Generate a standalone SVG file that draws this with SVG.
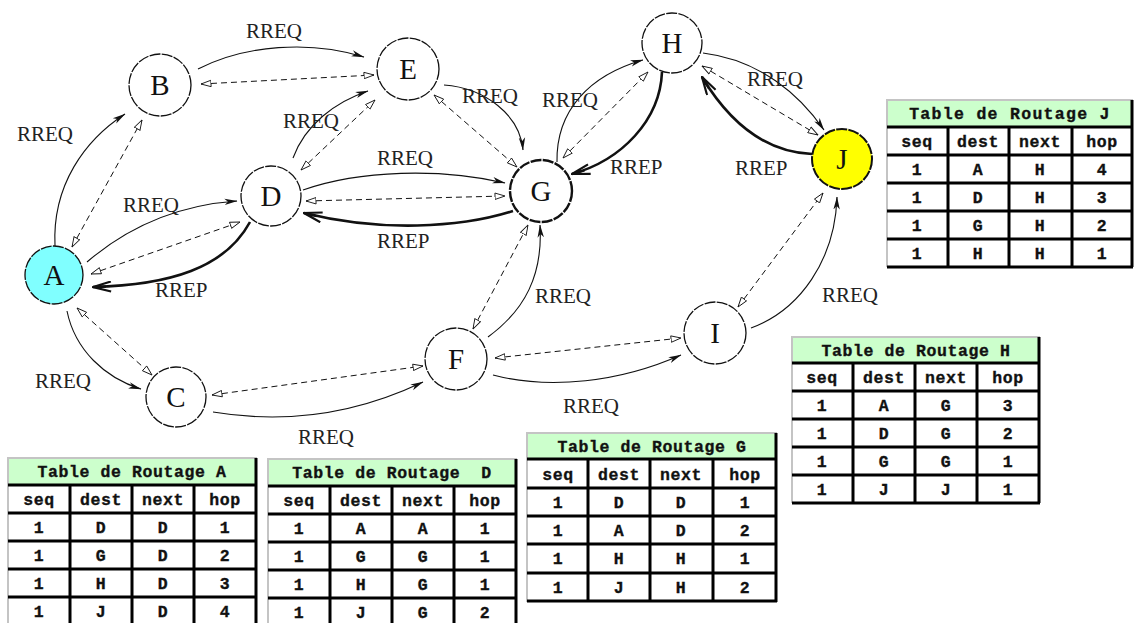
<svg xmlns="http://www.w3.org/2000/svg" width="1134" height="623" viewBox="0 0 1134 623">
  <style>
    .node circle { fill: #fff; stroke: #111; stroke-width: 1.3; stroke-dasharray: 11 1.3; }
    .node text { font-family: "Liberation Serif", "Times New Roman", serif; font-size: 29px; text-anchor: middle; fill: #111; }
    .req { fill: none; stroke: #111; stroke-width: 1.1; marker-end: url(#mReq); }
    .dash { fill: none; stroke: #111; stroke-width: 1; stroke-dasharray: 6 4; marker-start: url(#mDash); marker-end: url(#mDash); }
    .rep { fill: none; stroke: #111; stroke-width: 2.6; marker-end: url(#mRep); }
    .lbl { font-family: "Liberation Serif", "Times New Roman", serif; font-size: 21px; fill: #222; }
    .tbl text { font-family: "Liberation Mono", "Courier New", monospace; font-weight: bold; font-size: 16.5px; letter-spacing: 0.6px; text-anchor: middle; fill: #111; stroke: #111; stroke-width: 0.35; }
    .tbl .hd { fill: #ccffcc; }
    .tbl .bd { fill: #fff; }
    .tbl .grid { stroke: #000; stroke-width: 3; fill: none; }
    .tbl .bev { stroke: #c4c4c4; stroke-width: 2; fill: none; }
  </style>
  <defs>
    <marker id="mReq" markerUnits="userSpaceOnUse" viewBox="0 0 13 8" refX="12.5" refY="4" markerWidth="13" markerHeight="8" orient="auto">
      <path d="M0,0.8 L13,4 L0,7.2 L3.5,4 Z" fill="#111"/>
    </marker>
    <marker id="mDash" markerUnits="userSpaceOnUse" viewBox="0 0 11 8" refX="10.5" refY="4" markerWidth="11" markerHeight="8" orient="auto-start-reverse">
      <path d="M0.5,0.8 L10.5,4 L0.5,7.2 Z" fill="#fff" stroke="#111" stroke-width="0.9"/>
    </marker>
    <marker id="mRep" markerUnits="userSpaceOnUse" viewBox="0 0 20 12" refX="19" refY="6" markerWidth="20" markerHeight="12" orient="auto">
      <path d="M1,1 L19,6 L1,11 M6,6 L19,6" fill="none" stroke="#111" stroke-width="2.2"/>
    </marker>
  </defs>

  <!-- links between stations -->
  <g id="connectors">
    <path class="req" d="M55,246 C52,185 85,140 125,114"/>
    <path class="dash" d="M72,247 L142,120"/>
    <path class="req" d="M198,69 C245,45 310,40 364,57"/>
    <path class="dash" d="M201,84 L374,75"/>
    <path class="req" d="M87,262 C130,225 180,205 237,201"/>
    <path class="dash" d="M91,274 L240,222"/>
    <path class="rep" d="M250,222 C225,268 170,285 93,287"/>
    <path class="req" d="M293,158 C305,125 335,102 368,91"/>
    <path class="dash" d="M301,170 L375,100"/>
    <path class="req" d="M303,190 C360,170 440,168 505,183"/>
    <path class="dash" d="M306,201 L505,196"/>
    <path class="rep" d="M513,211 C460,228 380,232 304,213"/>
    <path class="req" d="M444,85 C485,88 520,115 523,150"/>
    <path class="dash" d="M434,95 L517,167"/>
    <path class="req" d="M557,162 C556,110 590,75 643,60"/>
    <path class="dash" d="M563,158 L648,72"/>
    <path class="rep" d="M662,72 C660,120 622,160 572,174"/>
    <path class="req" d="M703,53 C760,60 800,95 824,130"/>
    <path class="dash" d="M702,66 L818,135"/>
    <path class="rep" d="M812,154 C760,152 725,115 702,77"/>
    <path class="req" d="M67,311 C75,350 105,378 141,389"/>
    <path class="dash" d="M77,308 L152,375"/>
    <path class="req" d="M213,412 C290,425 360,412 423,382"/>
    <path class="dash" d="M212,395 L423,366"/>
    <path class="req" d="M488,337 C525,310 543,275 540,225"/>
    <path class="dash" d="M473,329 L528,225"/>
    <path class="req" d="M493,375 C550,390 620,382 681,355"/>
    <path class="dash" d="M495,358 L681,338"/>
    <path class="req" d="M751,328 C800,310 835,260 837,197"/>
    <path class="dash" d="M738,307 L823,193"/>
  </g>

  <!-- message labels -->
  <g id="labels" class="lbl">
    <text class="lbl" x="246" y="38">RREQ</text>
    <text class="lbl" x="17" y="141">RREQ</text>
    <text class="lbl" x="283" y="128">RREQ</text>
    <text class="lbl" x="123" y="212">RREQ</text>
    <text class="lbl" x="155" y="297">RREP</text>
    <text class="lbl" x="462" y="103">RREQ</text>
    <text class="lbl" x="542" y="107">RREQ</text>
    <text class="lbl" x="377" y="165">RREQ</text>
    <text class="lbl" x="377" y="248">RREP</text>
    <text class="lbl" x="610" y="174">RREP</text>
    <text class="lbl" x="747" y="86">RREQ</text>
    <text class="lbl" x="735" y="175">RREP</text>
    <text class="lbl" x="822" y="302">RREQ</text>
    <text class="lbl" x="535" y="303">RREQ</text>
    <text class="lbl" x="563" y="413">RREQ</text>
    <text class="lbl" x="35" y="388">RREQ</text>
    <text class="lbl" x="298" y="444">RREQ</text>
  </g>

  <!-- stations -->
  <g id="node-A" class="node"><circle cx="54" cy="275" r="29" style="fill:#80ffff"/><text x="54" y="285">A</text></g>
  <g id="node-B" class="node"><circle cx="160" cy="85" r="31"/><text x="160" y="95">B</text></g>
  <g id="node-C" class="node"><circle cx="176" cy="397" r="30"/><text x="176" y="407">C</text></g>
  <g id="node-D" class="node"><circle cx="271" cy="196" r="30"/><text x="271" y="206">D</text></g>
  <g id="node-E" class="node"><circle cx="408" cy="69" r="31"/><text x="408" y="79">E</text></g>
  <g id="node-F" class="node"><circle cx="456" cy="359" r="31"/><text x="456" y="369">F</text></g>
  <g id="node-G" class="node"><circle cx="541" cy="191" r="31" style="stroke-width:2.4"/><text x="541" y="201">G</text></g>
  <g id="node-H" class="node"><circle cx="672" cy="43" r="30"/><text x="672" y="53">H</text></g>
  <g id="node-I" class="node"><circle cx="715" cy="333" r="31"/><text x="715" y="343">I</text></g>
  <g id="node-J" class="node"><circle cx="842" cy="159" r="30" style="fill:#ffff00;stroke-width:2"/><text x="842" y="169">J</text></g>

  <!-- routing table of J -->
  <g id="table-J" class="tbl">
    <rect class="hd" x="887" y="100" width="246" height="27"/>
    <rect class="bd" x="887" y="127" width="246" height="140"/>
    <path class="bev" d="M887,267 V100 H1133"/>
    <path class="grid" d="M887,127 H1133 M887,155 H1133 M887,183 H1133 M887,211 H1133 M887,239 H1133 M887,267 H1133 M948,127 V267 M1009,127 V267 M1072,127 V267 M1132,100 V267"/>
    <text x="1010" y="119" style="letter-spacing:1.3px">Table de Routage J</text>
    <text x="917" y="147">seq</text><text x="978" y="147">dest</text><text x="1040" y="147">next</text><text x="1102" y="147">hop</text>
    <text x="917" y="175">1</text><text x="978" y="175">A</text><text x="1040" y="175">H</text><text x="1102" y="175">4</text>
    <text x="917" y="203">1</text><text x="978" y="203">D</text><text x="1040" y="203">H</text><text x="1102" y="203">3</text>
    <text x="917" y="231">1</text><text x="978" y="231">G</text><text x="1040" y="231">H</text><text x="1102" y="231">2</text>
    <text x="917" y="259">1</text><text x="978" y="259">H</text><text x="1040" y="259">H</text><text x="1102" y="259">1</text>
  </g>

  <!-- routing table of H -->
  <g id="table-H" class="tbl">
    <rect class="hd" x="792" y="337" width="248" height="26"/>
    <rect class="bd" x="792" y="363" width="248" height="140"/>
    <path class="bev" d="M792,503 V337 H1040"/>
    <path class="grid" d="M792,363 H1040 M792,391 H1040 M792,419 H1040 M792,447 H1040 M792,475 H1040 M792,503 H1040 M853,363 V503 M915,363 V503 M977,363 V503 M1039,337 V503"/>
    <text x="916" y="356">Table de Routage H</text>
    <text x="822" y="383">seq</text><text x="884" y="383">dest</text><text x="946" y="383">next</text><text x="1008" y="383">hop</text>
    <text x="822" y="411">1</text><text x="884" y="411">A</text><text x="946" y="411">G</text><text x="1008" y="411">3</text>
    <text x="822" y="439">1</text><text x="884" y="439">D</text><text x="946" y="439">G</text><text x="1008" y="439">2</text>
    <text x="822" y="467">1</text><text x="884" y="467">G</text><text x="946" y="467">G</text><text x="1008" y="467">1</text>
    <text x="822" y="495">1</text><text x="884" y="495">J</text><text x="946" y="495">J</text><text x="1008" y="495">1</text>
  </g>

  <!-- routing table of G -->
  <g id="table-G" class="tbl">
    <rect class="hd" x="527" y="433" width="250" height="26"/>
    <rect class="bd" x="527" y="459" width="250" height="143"/>
    <path class="bev" d="M527,602 V433 H777"/>
    <path class="grid" d="M527,459 H777 M527,488 H777 M527,516 H777 M527,544 H777 M527,573 H777 M527,601 H777 M588,459 V602 M650,459 V602 M713,459 V602 M776,433 V602"/>
    <text x="652" y="452">Table de Routage G</text>
    <text x="558" y="480">seq</text><text x="619" y="480">dest</text><text x="681" y="480">next</text><text x="745" y="480">hop</text>
    <text x="558" y="508">1</text><text x="619" y="508">D</text><text x="681" y="508">D</text><text x="745" y="508">1</text>
    <text x="558" y="536">1</text><text x="619" y="536">A</text><text x="681" y="536">D</text><text x="745" y="536">2</text>
    <text x="558" y="564">1</text><text x="619" y="564">H</text><text x="681" y="564">H</text><text x="745" y="564">1</text>
    <text x="558" y="593">1</text><text x="619" y="593">J</text><text x="681" y="593">H</text><text x="745" y="593">2</text>
  </g>

  <!-- routing table of D -->
  <g id="table-D" class="tbl">
    <rect class="hd" x="268" y="459" width="249" height="27"/>
    <rect class="bd" x="268" y="486" width="249" height="140"/>
    <path class="bev" d="M268,626 V459 H517"/>
    <path class="grid" d="M268,486 H517 M268,514 H517 M268,542 H517 M268,570 H517 M268,598 H517 M330,486 V626 M392,486 V626 M454,486 V626 M516,459 V626"/>
    <text x="392" y="478" xml:space="preserve">Table de Routage  D</text>
    <text x="299" y="506">seq</text><text x="361" y="506">dest</text><text x="423" y="506">next</text><text x="485" y="506">hop</text>
    <text x="299" y="534">1</text><text x="361" y="534">A</text><text x="423" y="534">A</text><text x="485" y="534">1</text>
    <text x="299" y="562">1</text><text x="361" y="562">G</text><text x="423" y="562">G</text><text x="485" y="562">1</text>
    <text x="299" y="590">1</text><text x="361" y="590">H</text><text x="423" y="590">G</text><text x="485" y="590">1</text>
    <text x="299" y="618">1</text><text x="361" y="618">J</text><text x="423" y="618">G</text><text x="485" y="618">2</text>
  </g>

  <!-- routing table of A -->
  <g id="table-A" class="tbl">
    <rect class="hd" x="8" y="458" width="249" height="27"/>
    <rect class="bd" x="8" y="485" width="249" height="140"/>
    <path class="bev" d="M8,625 V458 H257"/>
    <path class="grid" d="M8,485 H257 M8,513 H257 M8,541 H257 M8,569 H257 M8,597 H257 M70,485 V625 M132,485 V625 M194,485 V625 M256,458 V625"/>
    <text x="132" y="477">Table de Routage A</text>
    <text x="39" y="505">seq</text><text x="101" y="505">dest</text><text x="163" y="505">next</text><text x="225" y="505">hop</text>
    <text x="39" y="533">1</text><text x="101" y="533">D</text><text x="163" y="533">D</text><text x="225" y="533">1</text>
    <text x="39" y="561">1</text><text x="101" y="561">G</text><text x="163" y="561">D</text><text x="225" y="561">2</text>
    <text x="39" y="589">1</text><text x="101" y="589">H</text><text x="163" y="589">D</text><text x="225" y="589">3</text>
    <text x="39" y="617">1</text><text x="101" y="617">J</text><text x="163" y="617">D</text><text x="225" y="617">4</text>
  </g>
</svg>
